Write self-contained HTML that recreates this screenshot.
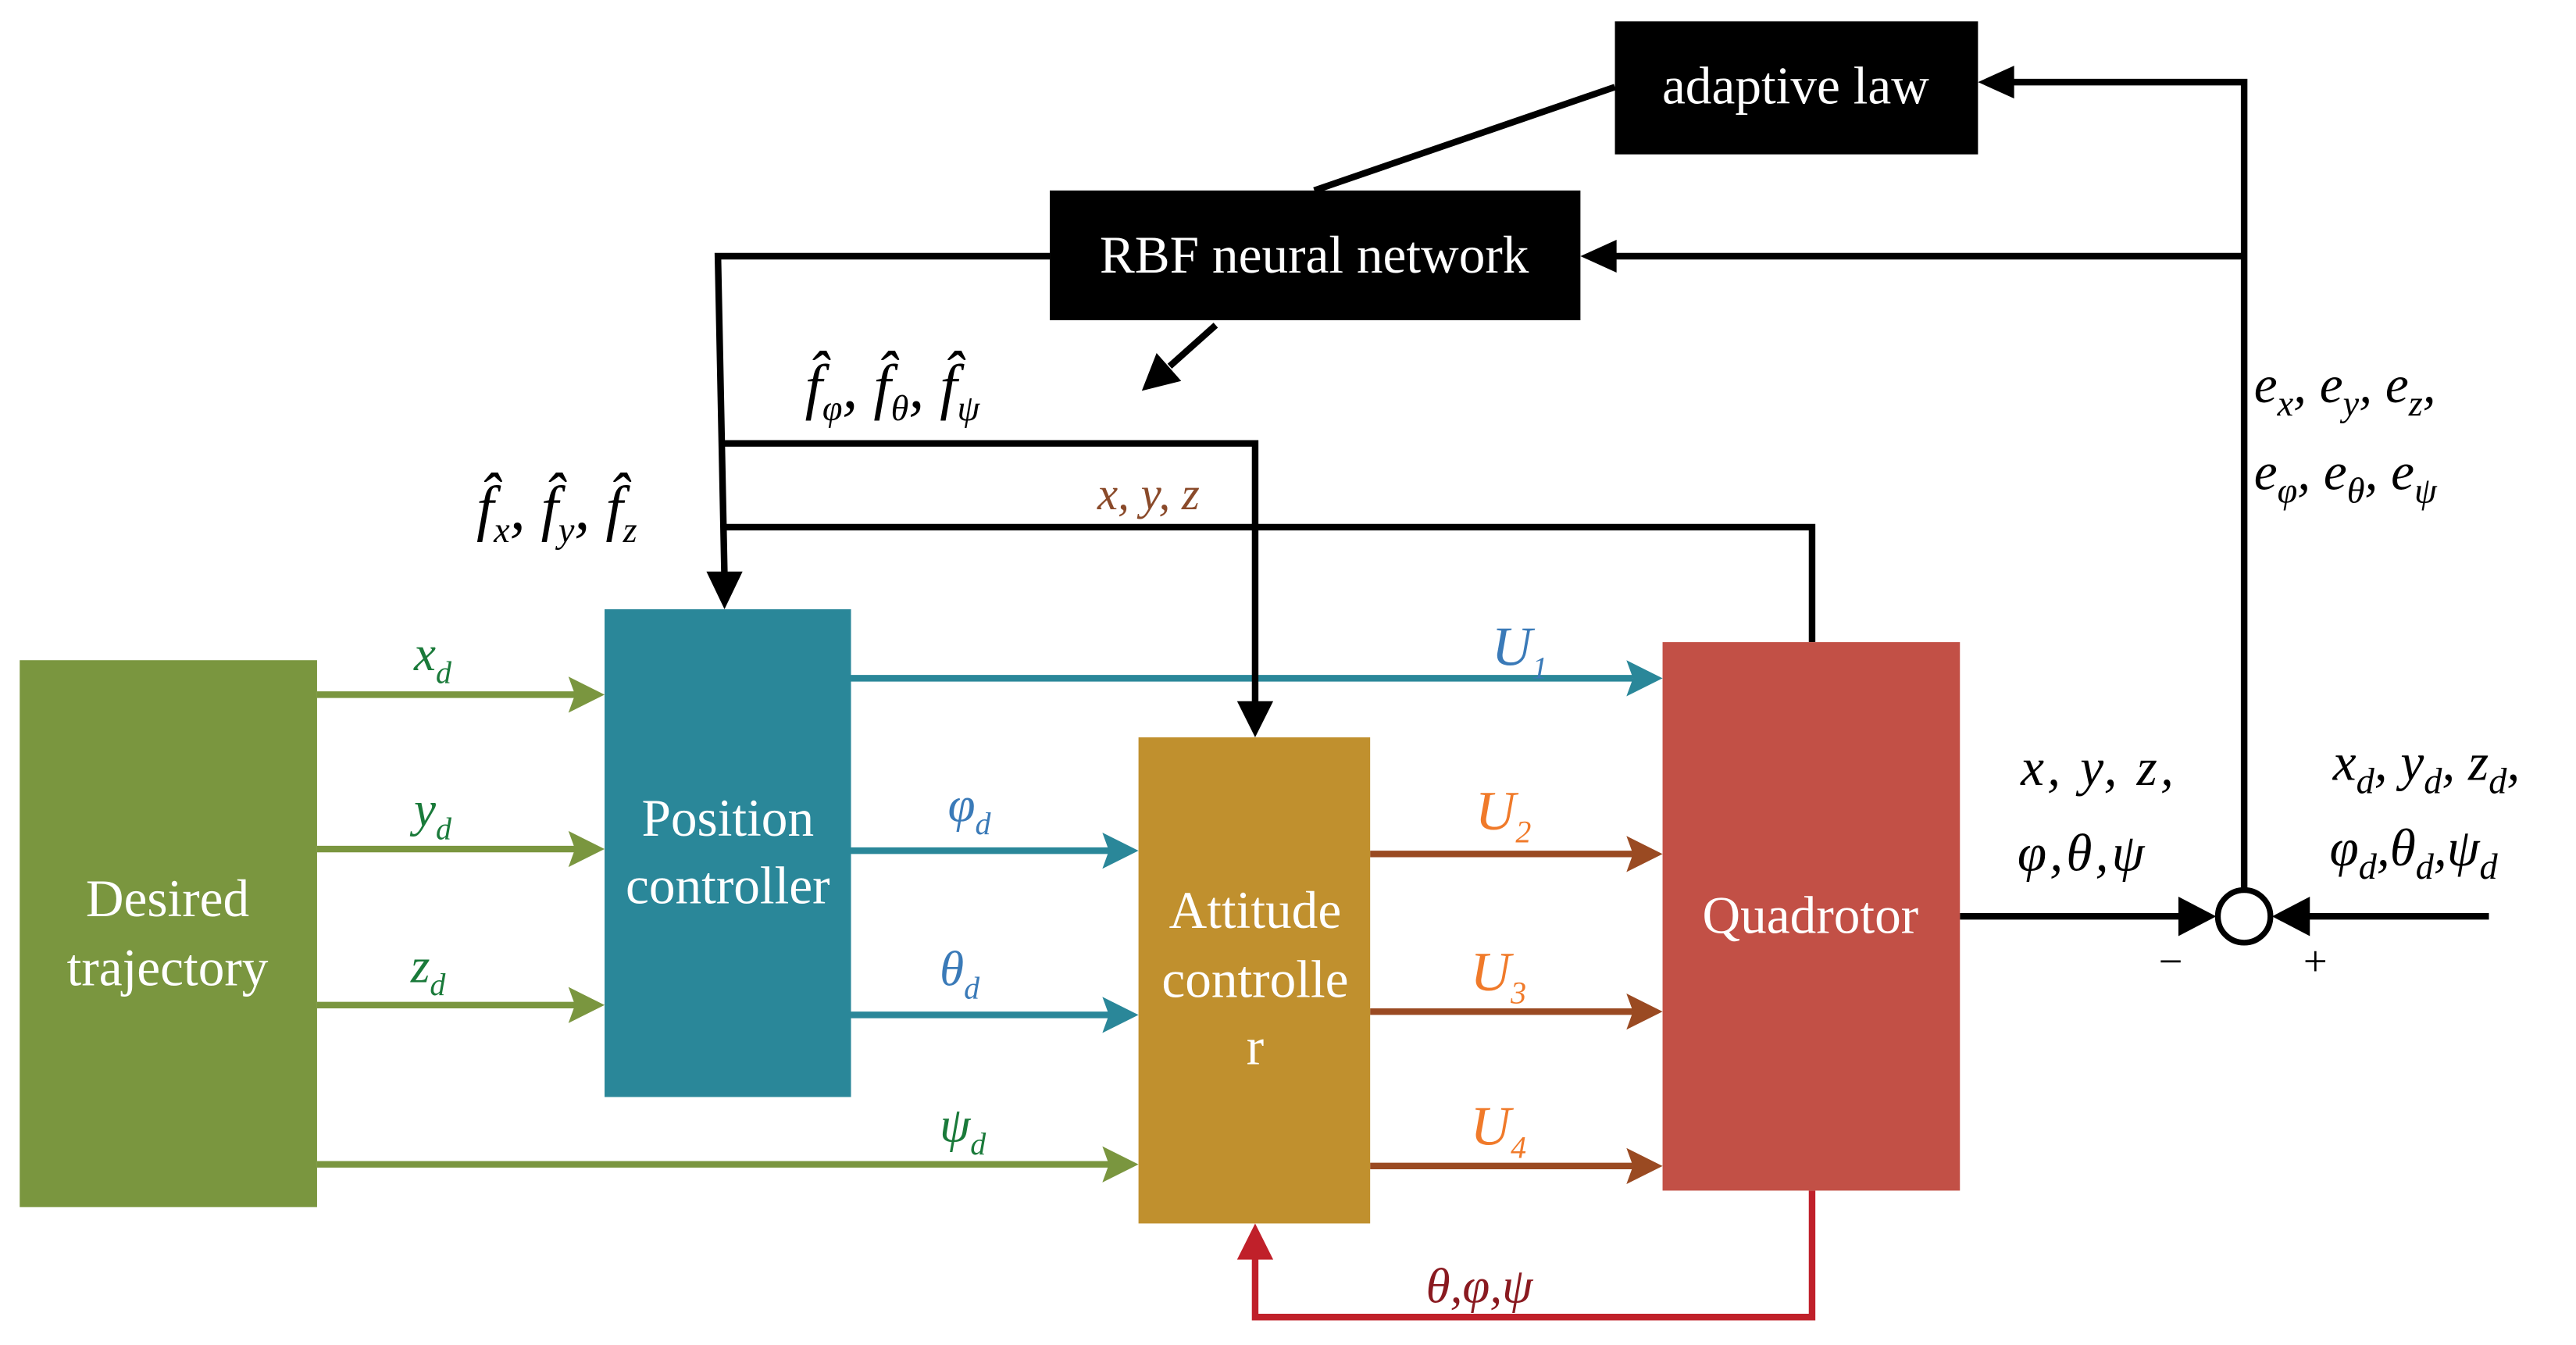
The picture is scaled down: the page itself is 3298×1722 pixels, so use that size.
<!DOCTYPE html>
<html><head><meta charset="utf-8"><style>
html,body{margin:0;padding:0;background:#fff;}
svg{display:block;}
text{font-family:"Liberation Serif",serif;}
.it{font-style:italic;}
</style></head><body>
<svg width="3298" height="1722" viewBox="0 0 1568 819" preserveAspectRatio="none" xmlns="http://www.w3.org/2000/svg">
<g stroke-width="4" fill="none">
<g stroke="#7a963f">
<line x1="193" y1="423" x2="352" y2="423"/><line x1="193" y1="517" x2="352" y2="517"/><line x1="193" y1="612" x2="352" y2="612"/><line x1="193" y1="709" x2="677" y2="709"/>
</g>
<g stroke="#2a8799">
<line x1="518" y1="413" x2="994" y2="413"/><line x1="518" y1="518" x2="676" y2="518"/><line x1="518" y1="618" x2="676" y2="618"/>
</g>
<g stroke="#9a4a22">
<line x1="834" y1="520" x2="994" y2="520"/><line x1="834" y1="616" x2="994" y2="616"/><line x1="834" y1="710" x2="994" y2="710"/>
</g>
<polyline stroke="#c0202a" points="1103,725 1103,802 764,802 764,765"/>
<g stroke="#000">
<polyline points="639,156 437,156 441,352"/>
<polyline points="441,270 764,270 764,430"/>
<polyline points="441,321 1103,321 1103,391"/>
<line x1="983" y1="53" x2="800" y2="116"/>
<line x1="740" y1="198" x2="712" y2="223"/>
<polyline points="1366,541 1366,50 1222,50"/>
<line x1="1366" y1="156" x2="980" y2="156"/>
<line x1="1193" y1="558" x2="1330" y2="558"/>
<line x1="1515" y1="558" x2="1402" y2="558"/>
</g>
</g>
<g fill="#7a963f">
<polygon points="346,412 368,423 346,434 350,423"/><polygon points="346,506 368,517 346,528 350,517"/><polygon points="346,601 368,612 346,623 350,612"/><polygon points="671,698 693,709 671,720 675,709"/>
</g>
<g fill="#2a8799">
<polygon points="990,402 1012,413 990,424 994,413"/><polygon points="671,507 693,518 671,529 675,518"/><polygon points="671,607 693,618 671,629 675,618"/>
</g>
<g fill="#9a4a22">
<polygon points="990,509 1012,520 990,531 994,520"/><polygon points="990,605 1012,616 990,627 994,616"/><polygon points="990,699 1012,710 990,721 994,710"/>
</g>
<polygon fill="#c0202a" points="753,767 764,745 775,767"/>
<g fill="#000">
<polygon points="430,348 452,348 441,371"/>
<polygon points="753,427 775,427 764,449"/>
<polygon points="1226,40 1204,50 1226,60"/>
<polygon points="984,146 962,156 984,166"/>
<polygon points="695,238 704,215 719,232"/>
<polygon points="1326,546 1349,558 1326,570"/>
<polygon points="1406,546 1383,558 1406,570"/>
</g>
<circle cx="1366" cy="558" r="16" fill="#fff" stroke="#000" stroke-width="3.5"/>
<rect x="12" y="402" width="181" height="333" fill="#7a963f"/>
<rect x="368" y="371" width="150" height="297" fill="#2a8799"/>
<rect x="693" y="449" width="141" height="296" fill="#c0902e"/>
<rect x="1012" y="391" width="181" height="334" fill="#c25046"/>
<rect x="983" y="13" width="221" height="81" fill="#000"/>
<rect x="639" y="116" width="323" height="79" fill="#000"/>
<g fill="#fff" font-size="32" text-anchor="middle">
<text x="102" y="558">Desired</text><text x="102" y="600">trajectory</text>
<text x="443" y="509">Position</text><text x="443" y="550">controller</text>
<text x="764" y="565">Attitude</text><text x="764" y="607">controlle</text><text x="764" y="648">r</text>
<text x="1102" y="568">Quadrotor</text>
<text x="1093" y="63">adaptive law</text>
<text x="800" y="166">RBF neural network</text>
</g>
<g class="it" font-size="30">
<text x="252" y="408" fill="#1a7a3a">x<tspan font-size="19" dy="8">d</tspan></text>
<text x="252" y="503" fill="#1a7a3a">y<tspan font-size="19" dy="8">d</tspan></text>
<text x="250" y="598" fill="#1a7a3a">z<tspan font-size="19" dy="8">d</tspan></text>
<text x="572" y="695" fill="#1a7a3a">ψ<tspan font-size="19" dy="8">d</tspan></text>
<text x="577" y="500" fill="#3a7ab8">φ<tspan font-size="19" dy="8">d</tspan></text>
<text x="572" y="600" fill="#3a7ab8">θ<tspan font-size="19" dy="8">d</tspan></text>
<text x="908" y="405" fill="#3a7ab8" font-size="34">U<tspan font-size="19" dy="8">1</tspan></text>
<text x="898" y="505" fill="#f07a2a" font-size="34">U<tspan font-size="19" dy="8">2</tspan></text>
<text x="895" y="603" fill="#f07a2a" font-size="34">U<tspan font-size="19" dy="8">3</tspan></text>
<text x="895" y="697" fill="#f07a2a" font-size="34">U<tspan font-size="19" dy="8">4</tspan></text>
<text x="668" y="310" fill="#8a4a2a" font-size="28">x, y, z</text>
<text x="868" y="793" fill="#8a1a20" font-size="30">θ,φ,ψ</text>
<text x="1230" y="478" fill="#000" font-size="32" letter-spacing="2">x, y, z,</text>
<text x="1228" y="530" fill="#000" font-size="32" letter-spacing="2">φ,θ,ψ</text>
<text x="1420" y="475" fill="#000" font-size="32">x<tspan font-size="22" dy="8">d</tspan><tspan dy="-8">, y</tspan><tspan font-size="22" dy="8">d</tspan><tspan dy="-8">, z</tspan><tspan font-size="22" dy="8">d</tspan><tspan dy="-8">,</tspan></text>
<text x="1418" y="527" fill="#000" font-size="32">φ<tspan font-size="22" dy="8">d</tspan><tspan dy="-8">,θ</tspan><tspan font-size="22" dy="8">d</tspan><tspan dy="-8">,ψ</tspan><tspan font-size="22" dy="8">d</tspan></text>
<text x="1372" y="245" fill="#000" font-size="32">e<tspan font-size="22" dy="8">x</tspan><tspan dy="-8">, e</tspan><tspan font-size="22" dy="8">y</tspan><tspan dy="-8">, e</tspan><tspan font-size="22" dy="8">z</tspan><tspan dy="-8">,</tspan></text>
<text x="1372" y="298" fill="#000" font-size="32">e<tspan font-size="22" dy="8">φ</tspan><tspan dy="-8">, e</tspan><tspan font-size="22" dy="8">θ</tspan><tspan dy="-8">, e</tspan><tspan font-size="22" dy="8">ψ</tspan></text>
<text x="290" y="322" fill="#000" font-size="38">f̂<tspan font-size="22" dy="8">x</tspan><tspan dy="-8">, f̂</tspan><tspan font-size="22" dy="8">y</tspan><tspan dy="-8">, f̂</tspan><tspan font-size="22" dy="8">z</tspan></text>
<text x="490" y="248" fill="#000" font-size="38">f̂<tspan font-size="22" dy="8">φ</tspan><tspan dy="-8">, f̂</tspan><tspan font-size="22" dy="8">θ</tspan><tspan dy="-8">, f̂</tspan><tspan font-size="22" dy="8">ψ</tspan></text>
</g>
<text x="1314" y="594" font-size="26">−</text>
<text x="1402" y="594" font-size="26">+</text>
</svg>
</body></html>
